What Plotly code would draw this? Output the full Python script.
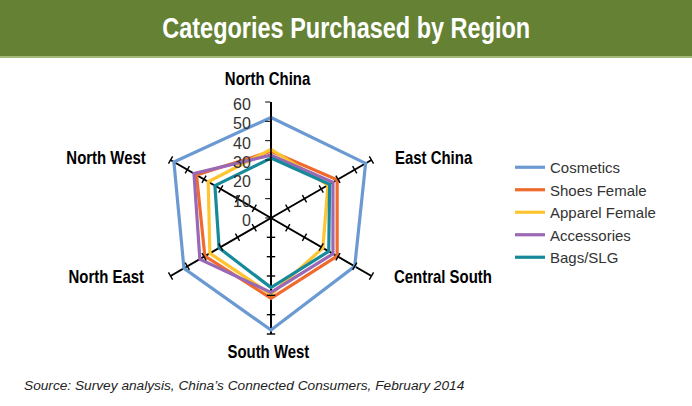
import plotly.graph_objects as go

regions = ["North China", "East China", "Central South", "South West", "North East", "North West"]
series_names = ["Cosmetics", "Shoes Female", "Apparel Female", "Accessories", "Bags/SLG"]
cosmetics = [52, 56.5, 50, 58, 52, 58]
shoes_female = [34.5, 39.5, 39.5, 41.5, 39.5, 44.5]
apparel_female = [35.5, 34, 31, 39.5, 36.5, 37.5]
accessories = [32.5, 37, 37, 38.5, 42.5, 46]
bags_slg = [31, 35, 34.5, 36, 31, 33.5]
radial_ticks = [0, 10, 20, 30, 40, 50, 60]

series_values = [cosmetics, shoes_female, apparel_female, accessories, bags_slg]
colors = ["#6b9ad3", "#ef6b2d", "#fec530", "#9a68b4", "#16899a"]

W, H = 692, 406
fig = go.Figure()

for name, vals, col in zip(series_names, series_values, colors):
    fig.add_trace(go.Scatterpolar(
        r=vals + vals[:1], theta=regions + regions[:1], mode="lines", name=name,
        line=dict(color=col, width=3.2), hoverinfo="skip"))

# tick marks on the non-radial spokes
for i, reg in enumerate(regions[1:], start=1):
    bearing = 60 * i
    fig.add_trace(go.Scatterpolar(
        r=radial_ticks[1:], theta=[reg] * (len(radial_ticks) - 1), mode="markers",
        marker=dict(symbol="line-ew", size=6, angle=bearing, color="black",
                    line=dict(color="black", width=1.4)),
        showlegend=False, hoverinfo="skip"))

cx, cy, R = 271, 218, 116
fig.update_layout(
    width=W, height=H, margin=dict(l=0, r=0, t=0, b=0),
    paper_bgcolor="white", plot_bgcolor="white",
    polar=dict(
        domain=dict(x=[(cx - R) / W, (cx + R) / W], y=[(H - cy - R) / H, (H - cy + R) / H]),
        bgcolor="white",
        radialaxis=dict(range=[0, 60], tickvals=radial_ticks, ticks="outside", ticklen=5,
                        tickcolor="black", tickwidth=1.4, showline=True, linecolor="black",
                        linewidth=1.6, showgrid=False, angle=90, side="counterclockwise",
                        tickfont=dict(family="Liberation Sans, Arial, sans-serif", size=16, color="#333333")),
        angularaxis=dict(type="category", categoryarray=regions, rotation=90, direction="clockwise",
                         showgrid=True, gridcolor="black", gridwidth=1.6, showline=False,
                         showticklabels=False, ticks=""),
    ),
    legend=dict(x=510 / W, y=1 - 151 / H, xanchor="left", yanchor="top",
                font=dict(family="Liberation Sans, Arial, sans-serif", size=15, color="#333333"),
                bgcolor="rgba(0,0,0,0)"),
    showlegend=True,
)

# banner
fig.add_shape(type="rect", xref="paper", yref="paper", x0=0, x1=1, y0=1 - 56 / H, y1=1,
              fillcolor="#658234", line=dict(width=0), layer="below")
fig.add_shape(type="rect", xref="paper", yref="paper", x0=0, x1=1, y0=1 - 58 / H, y1=1 - 56 / H,
              fillcolor="#a3bb78", line=dict(width=0), layer="below")

fig.add_annotation(text="<b>Categories Purchased by Region</b>", xref="paper", yref="paper",
                   x=346 / W, y=1 - 28 / H, xanchor="center", yanchor="middle", showarrow=False,
                   font=dict(family="Liberation Sans, Arial, sans-serif", size=29, color="white"))

label_font = dict(family="Liberation Sans, Arial, sans-serif", size=18, color="black")
label_pos = [(268, 79, "center"), (393, 158, "left"), (392, 277, "left"),
             (268, 352, "center"), (146, 277, "right"), (148, 158, "right")]
for reg, (lx, ly, anc) in zip(regions, label_pos):
    fig.add_annotation(text="<b>%s</b>" % reg, xref="paper", yref="paper", x=lx / W, y=1 - ly / H,
                       xanchor=anc, yanchor="middle", showarrow=False, font=label_font)

fig.add_annotation(text="<i>Source: Survey analysis, China\u2019s Connected Consumers, February 2014</i>",
                   xref="paper", yref="paper", x=22 / W, y=1 - 385 / H, xanchor="left", yanchor="middle",
                   showarrow=False, font=dict(family="Liberation Sans, Arial, sans-serif", size=13.7, color="#222222"))

post = """
document.body.style.margin = '0px';
document.body.style.padding = '0px';
var gd = document.getElementById('{plot_id}');
var squeeze = {
  'Categories Purchased by Region': ['center center', 0.81],
  'North China': ['center center', 0.83], 'South West': ['center center', 0.83],
  'East China': ['left center', 0.83], 'Central South': ['left center', 0.83],
  'North East': ['right center', 0.83], 'North West': ['right center', 0.83]
};
gd.querySelectorAll('text.annotation-text').forEach(function(t) {
  var key = (t.textContent || '').trim();
  if (squeeze[key]) {
    t.style.transformBox = 'fill-box';
    t.style.transformOrigin = squeeze[key][0];
    t.style.transform = 'scaleX(' + squeeze[key][1] + ')';
  }
});
"""

fig.write_html("out.html", post_script=post, config={"displayModeBar": False})
